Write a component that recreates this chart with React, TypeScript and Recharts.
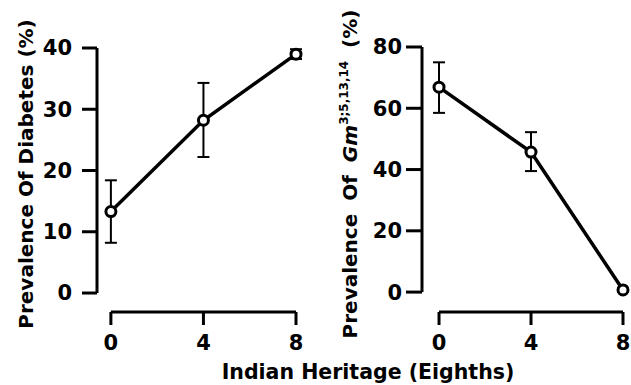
import React from "react";
import { LineChart, Line, XAxis, YAxis, ErrorBar, ReferenceLine } from "recharts";

// values
const heritage = [0, 4, 8];
const diabetesPct = [13.3, 28.2, 39.0];
const diabetesErr: [number, number][] = [[5.1, 5.1], [6.0, 6.1], [0.8, 0.8]];
const gmPct = [66.9, 45.7, 0.7];
const gmErr: [number, number][] = [[8.4, 8.1], [6.2, 6.5], [0.5, 0.5]];
const xTicks = [0, 4, 8];
const diabetesTicks = [0, 10, 20, 30, 40];
const gmTicks = [0, 20, 40, 60, 80];

const FONT = '"DejaVu Sans", sans-serif';
const INK = "#000";

const diabetesData = heritage.map((h, i) => ({
    heritage: h,
    value: diabetesPct[i],
    err: diabetesErr[i],
}));
const gmData = heritage.map((h, i) => ({
    heritage: h,
    value: gmPct[i],
    err: gmErr[i],
}));

interface PanelProps {
    data: { heritage: number; value: number; err: [number, number] }[];
    yTicks: number[];
    xMin: number;
    yMin: number;
    width: number;
    margin: { top: number; right: number; left: number; bottom: number };
    yTickSize: number;
    yTickMargin: number;
    label: React.ReactNode;
}

function Panel({
    data,
    yTicks,
    xMin,
    yMin,
    width,
    margin,
    yTickSize,
    yTickMargin,
    label,
}: PanelProps) {
    const yMax = yTicks[yTicks.length - 1];
    const tickStyle = { fill: INK, fontSize: 21, fontFamily: FONT, fontWeight: "bold" };
    return (
        <LineChart width={width} height={385} data={data} margin={margin}>
            <XAxis
                dataKey="heritage"
                type="number"
                domain={[xMin, 8]}
                ticks={xTicks}
                axisLine={false}
                tickLine={{ stroke: INK, strokeWidth: 3 }}
                tickSize={13}
                tickMargin={10}
                tick={tickStyle}
                height={40}
            />
            <YAxis
                type="number"
                domain={[yMin, yMax]}
                ticks={yTicks}
                axisLine={false}
                tickLine={{ stroke: INK, strokeWidth: 3 }}
                tickSize={yTickSize}
                tickMargin={yTickMargin}
                tick={tickStyle}
                width={60}
                label={{ content: () => label }}
            />
            {/* detached axis lines */}
            <ReferenceLine
                segment={[
                    { x: xMin, y: 0 },
                    { x: xMin, y: yMax },
                ]}
                stroke={INK}
                strokeWidth={3}
                ifOverflow="visible"
            />
            <ReferenceLine
                segment={[
                    { x: 0, y: yMin },
                    { x: 8, y: yMin },
                ]}
                stroke={INK}
                strokeWidth={3}
                ifOverflow="visible"
            />
            <Line
                type="linear"
                dataKey="value"
                stroke={INK}
                strokeWidth={3.5}
                dot={{ r: 5, fill: "#fff", stroke: INK, strokeWidth: 3 }}
                isAnimationActive={false}
            >
                <ErrorBar
                    dataKey="err"
                    direction="y"
                    width={6}
                    stroke={INK}
                    strokeWidth={2}
                />
            </Line>
        </LineChart>
    );
}

export default function App() {
    const labelStyle = {
        fontFamily: FONT,
        fontWeight: "bold" as const,
        fontSize: 20,
        fill: INK,
    };
    return (
        <div
            style={{
                position: "fixed",
                left: 0,
                top: 0,
                width: 631,
                height: 385,
                background: "#fff",
                overflow: "hidden",
            }}
        >
            <div style={{ position: "absolute", left: 0, top: 0 }}>
                <Panel
                    data={diabetesData}
                    yTicks={diabetesTicks}
                    xMin={-0.6}
                    yMin={-3.1}
                    width={320}
                    margin={{ top: 48, right: 24, left: 37, bottom: 33 }}
                    yTickSize={15}
                    yTickMargin={10}
                    label={
                        <text
                            x={33}
                            y={174}
                            transform="rotate(-90, 33, 174)"
                            textAnchor="middle"
                            style={labelStyle}
                        >
                            Prevalence Of Diabetes (%)
                        </text>
                    }
                />
            </div>
            <div style={{ position: "absolute", left: 320, top: 0 }}>
                <Panel
                    data={gmData}
                    yTicks={gmTicks}
                    xMin={-0.74}
                    yMin={-6.5}
                    width={311}
                    margin={{ top: 47, right: 8, left: 42, bottom: 33 }}
                    yTickSize={16}
                    yTickMargin={4}
                    label={
                        <text
                            x={37}
                            y={174}
                            transform="rotate(-90, 37, 174)"
                            textAnchor="middle"
                            style={{ ...labelStyle, wordSpacing: 6 }}
                        >
                            Prevalence Of <tspan fontStyle="italic">Gm</tspan>
                            <tspan dy={-9} fontSize={12}>
                                3;5,13,14
                            </tspan>
                            <tspan dy={9}> (%)</tspan>
                        </text>
                    }
                />
            </div>
            <div
                style={{
                    position: "absolute",
                    left: 68,
                    top: 362,
                    width: 600,
                    textAlign: "center",
                    fontFamily: FONT,
                    fontWeight: "bold",
                    fontSize: 20.5,
                    lineHeight: 1,
                    color: INK,
                }}
            >
                Indian Heritage (Eighths)
            </div>
        </div>
    );
}
